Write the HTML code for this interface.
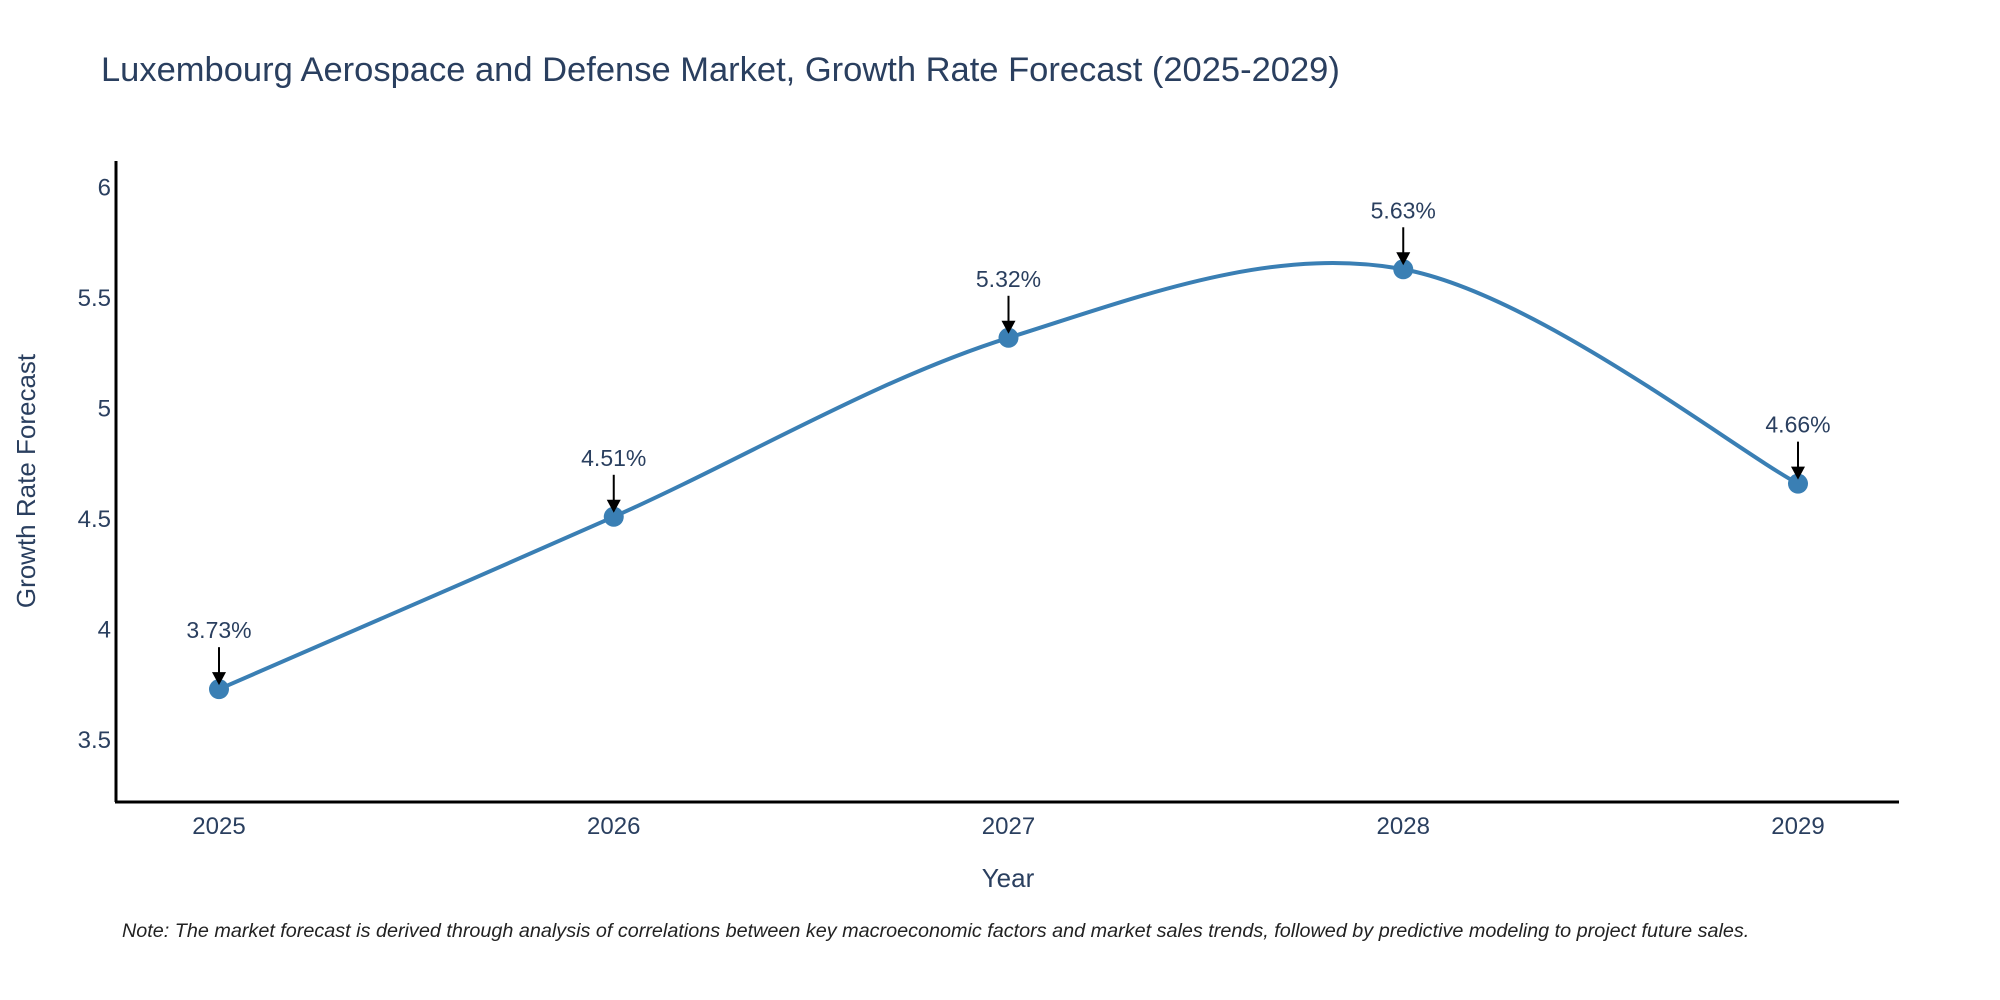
<!DOCTYPE html>
<html><head><meta charset="utf-8"><style>
html,body{margin:0;padding:0;background:#fff;}
svg{display:block;font-family:"Liberation Sans",sans-serif;}
</style></head><body>
<svg width="2000" height="1000" viewBox="0 0 2000 1000">
<text x="101" y="81" font-size="34.5" fill="#2a3f5f">Luxembourg Aerospace and Defense Market, Growth Rate Forecast (2025-2029)</text>
<g id="yticks"></g><g id="xticks"></g>
<path id="line" fill="none" stroke="#3a7fb4" stroke-width="4"></path>
<g id="points"></g><g id="annots"></g>
<line x1="116" y1="161" x2="116" y2="802" stroke="#000" stroke-width="3"/>
<line x1="115" y1="802" x2="1899" y2="802" stroke="#000" stroke-width="3"/>
<text x="28" y="481" font-size="26" fill="#2a3f5f" text-anchor="middle" transform="rotate(-90 28 481)" dominant-baseline="middle">Growth Rate Forecast</text>
<text x="1008" y="887" font-size="26" fill="#2a3f5f" text-anchor="middle">Year</text>
<text x="122" y="937" font-size="19.8" font-style="italic" fill="#222">Note: The market forecast is derived through analysis of correlations between key macroeconomic factors and market sales trends, followed by predictive modeling to project future sales.</text>
</svg>
<script>
const years=[2025,2026,2027,2028,2029];
const values=[3.73,4.51,5.32,5.63,4.66];
const labels=["3.73%","4.51%","5.32%","5.63%","4.66%"];
const yTicks=[3.5,4,4.5,5,5.5,6];
const yTickLabels=["3.5","4","4.5","5","5.5","6"];
const NS="http://www.w3.org/2000/svg";
const X=v=>219+(v-2025)*394.75;
const Y=v=>740-(v-3.5)*221;
function mk(tag,attrs,parent,txt){const e=document.createElementNS(NS,tag);for(const k in attrs)e.setAttribute(k,attrs[k]);if(txt!==undefined)e.textContent=txt;parent.appendChild(e);return e;}
const yt=document.getElementById('yticks');
yTicks.forEach((t,i)=>{const e=mk('text',{x:111,y:Y(t)+8,'font-size':24,fill:'#2a3f5f','text-anchor':'end'},yt,yTickLabels[i]);

});
const xt=document.getElementById('xticks');
years.forEach(y=>{const e=mk('text',{x:X(y),y:834,'font-size':24,fill:'#2a3f5f','text-anchor':'middle'},xt,String(y));

});
const P=years.map((y,i)=>[X(y),Y(values[i])]);
let d=`M${P[0][0]},${P[0][1]}`;
for(let i=0;i<P.length-1;i++){const p0=P[Math.max(0,i-1)],p1=P[i],p2=P[i+1],p3=P[Math.min(P.length-1,i+2)];const s=1/3;
d+=` C${p1[0]+(p2[0]-p0[0])*s/2},${p1[1]+(p2[1]-p0[1])*s/2} ${p2[0]-(p3[0]-p1[0])*s/2},${p2[1]-(p3[1]-p1[1])*s/2} ${p2[0]},${p2[1]}`;}
document.getElementById('line').setAttribute('d',d);
const pts=document.getElementById('points'),an=document.getElementById('annots');
P.forEach((p,i)=>{
const c=mk('circle',{cx:p[0],cy:p[1],r:10,fill:'#3a7fb4'},pts);


const l=mk('line',{x1:p[0],y1:p[1]-42,x2:p[0],y2:p[1]-14,stroke:'#000','stroke-width':2},an);


const h=mk('path',{d:`M${p[0]-7},${p[1]-17} L${p[0]+7},${p[1]-17} L${p[0]},${p[1]-4} Z`,fill:'#000'},an);


const t=mk('text',{x:p[0],y:p[1]-51,'font-size':23,fill:'#2a3f5f','text-anchor':'middle'},an,labels[i]);


});
</script>
</body></html>
